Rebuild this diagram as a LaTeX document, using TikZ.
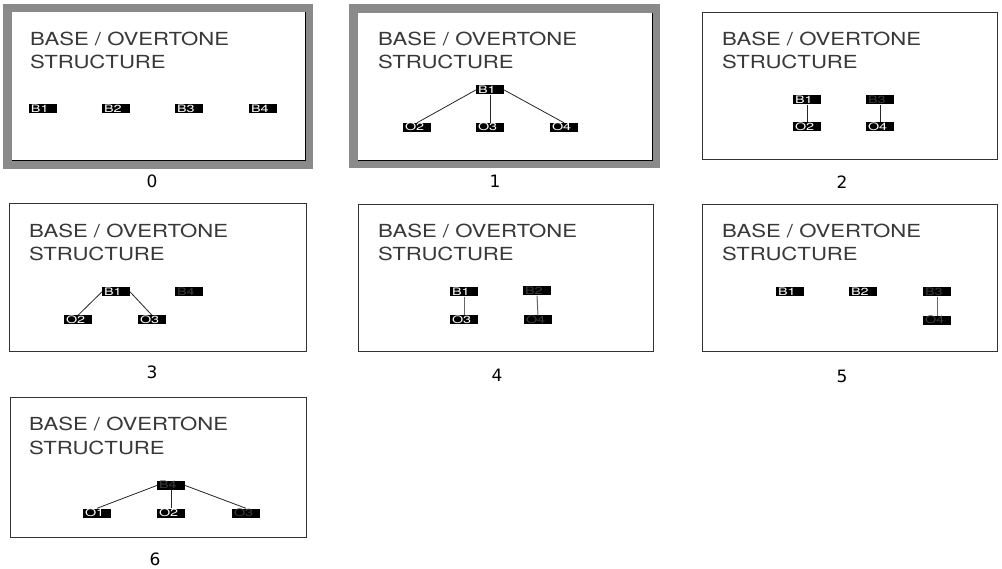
\documentclass[tikz,border=0pt]{standalone}
\usepackage{fontspec}
\newfontfamily\titlefont[FakeStretch=1.23]{TeX Gyre Heros}
\newfontfamily\lblfont[FakeStretch=1.4]{TeX Gyre Heros}
\newfontfamily\capfont{DejaVu Sans}
\definecolor{framegray}{HTML}{8A8A8A}
\definecolor{dimtext}{HTML}{3A3A3A}
\definecolor{linedark}{HTML}{333333}
\tikzset{
  title/.style={anchor=base west, inner sep=0pt, font=\titlefont\fontsize{18}{18}\selectfont, text=black!78},
  captionlbl/.style={inner sep=0pt, font=\capfont\fontsize{17}{17}\selectfont},
  tag/.style={fill=black, inner sep=0pt, minimum width=28pt, minimum height=9pt,
              text height=7.4pt, text depth=0.5pt, text=white,
              font=\lblfont\fontsize{10.3}{10.3}\selectfont},
  dimtag/.style={tag, text=dimtext},
  plain/.style={draw=linedark, line width=0.9pt, fill=white},
  link/.style={draw=black!85, line width=0.8pt},
  glink/.style={draw=black!60, line width=1pt}
}
\newcommand{\tg}[1]{\makebox[26pt][l]{\hspace{1pt}#1}}
\begin{document}
\begin{tikzpicture}[x=1pt,y=-1pt]
\useasboundingbox (0,0) rectangle (1002,569);
\fill[white] (0,0) rectangle (1002,569);

% ---------- Panel 0 ----------
\fill[framegray] (3,4) rectangle (313,169);
\fill[white] (12,12) rectangle (305,160);
\draw[black, line width=0.8pt] (12,160) -- (305,160) -- (305,12);
\node[title] (t0a) at (30,46) {BASE / OVERTONE};
\node[title] (t0b) at (30,69) {STRUCTURE};
\node[tag] (p0b1) at (43,109) {\tg{B1}};
\node[tag] (p0b2) at (116,109) {\tg{B2}};
\node[tag] (p0b3) at (189,109) {\tg{B3}};
\node[tag] (p0b4) at (263,109) {\tg{B4}};
\node[captionlbl] (c0) at (152,181) {0};

% ---------- Panel 1 ----------
\fill[framegray] (349,4) rectangle (660,168);
\fill[white] (358,13) rectangle (652,160);
\draw[black, line width=0.8pt] (358,160) -- (652,160) -- (652,13);
\node[title] (t1a) at (378,46) {BASE / OVERTONE};
\node[title] (t1b) at (378,69) {STRUCTURE};
\node[tag] (p1b1) at (490,90) {\tg{B1}};
\node[tag] (p1o2) at (417,127.5) {\tg{O2}};
\node[tag] (p1o3) at (490,127.5) {\tg{O3}};
\node[tag] (p1o4) at (564,127.5) {\tg{O4}};
\draw[link] (p1b1.west) -- (p1o2.north);
\draw[link] (p1b1.south) -- (p1o3.north);
\draw[link] (p1b1.east) -- (p1o4.north);
\node[captionlbl] (c1) at (495,181) {1};

% ---------- Panel 2 ----------
\draw[plain] (702,12) rectangle (997,159);
\node[title] (t2a) at (722,46) {BASE / OVERTONE};
\node[title] (t2b) at (722,69) {STRUCTURE};
\node[tag] (p2b1) at (807,100) {\tg{B1}};
\node[dimtag] (p2b3) at (880,100) {\tg{B3}};
\node[tag] (p2o2) at (807,127) {\tg{O2}};
\node[tag] (p2o4) at (880,127) {\tg{O4}};
\draw[link] (p2b1.south) -- (p2o2.north);
\draw[link] (p2b3.south) -- (p2o4.north);
\node[captionlbl] (c2) at (842,182) {2};

% ---------- Panel 3 ----------
\draw[plain] (9,203) rectangle (306,351);
\node[title] (t3a) at (29,238) {BASE / OVERTONE};
\node[title] (t3b) at (29,261) {STRUCTURE};
\node[tag] (p3b1) at (116,292) {\tg{B1}};
\node[dimtag] (p3b4) at (189,292) {\tg{B4}};
\node[tag] (p3o2) at (78,320) {\tg{O2}};
\node[tag] (p3o3) at (152,320) {\tg{O3}};
\draw[link] (p3b1.west) -- (p3o2.north);
\draw[link] (p3b1.east) -- (p3o3.north);
\node[captionlbl] (c3) at (152,372) {3};

% ---------- Panel 4 ----------
\draw[plain] (358,204) rectangle (653,351);
\node[title] (t4a) at (378,238) {BASE / OVERTONE};
\node[title] (t4b) at (378,261) {STRUCTURE};
\node[tag] (p4b1) at (464,292) {\tg{B1}};
\node[dimtag] (p4b2) at (537,291) {\tg{B2}};
\node[tag] (p4o3) at (464,320) {\tg{O3}};
\node[dimtag] (p4o4) at (538,320) {\tg{O4}};
\draw[glink] (p4b1.south) -- (p4o3.north);
\draw[glink] (p4b2.south) -- (p4o4.north);
\node[captionlbl] (c4) at (497,375) {4};

% ---------- Panel 5 ----------
\draw[plain] (702,204) rectangle (997,351);
\node[title] (t5a) at (722,238) {BASE / OVERTONE};
\node[title] (t5b) at (722,261) {STRUCTURE};
\node[tag] (p5b1) at (790,292) {\tg{B1}};
\node[tag] (p5b2) at (863,292) {\tg{B2}};
\node[dimtag] (p5b3) at (937,292) {\tg{B3}};
\node[dimtag] (p5o4) at (937,320.5) {\tg{O4}};
\draw[glink] (p5b3.south) -- (p5o4.north);
\node[captionlbl] (c5) at (842,376) {5};

% ---------- Panel 6 ----------
\draw[plain] (10,397) rectangle (306,537);
\node[title] (t6a) at (29,431) {BASE / OVERTONE};
\node[title] (t6b) at (29,454) {STRUCTURE};
\node[dimtag] (p6b4) at (171,485.5) {\tg{B4}};
\node[tag] (p6o1) at (97,513) {\tg{O1}};
\node[tag] (p6o2) at (171,513) {\tg{O2}};
\node[dimtag] (p6o3) at (246,513) {\tg{O3}};
\draw[link] (p6b4.west) -- (p6o1.north);
\draw[link] (p6b4.south) -- (p6o2.north);
\draw[link] (p6b4.east) -- (p6o3.north);
\node[captionlbl] (c6) at (155,559) {6};
\end{tikzpicture}
\end{document}
